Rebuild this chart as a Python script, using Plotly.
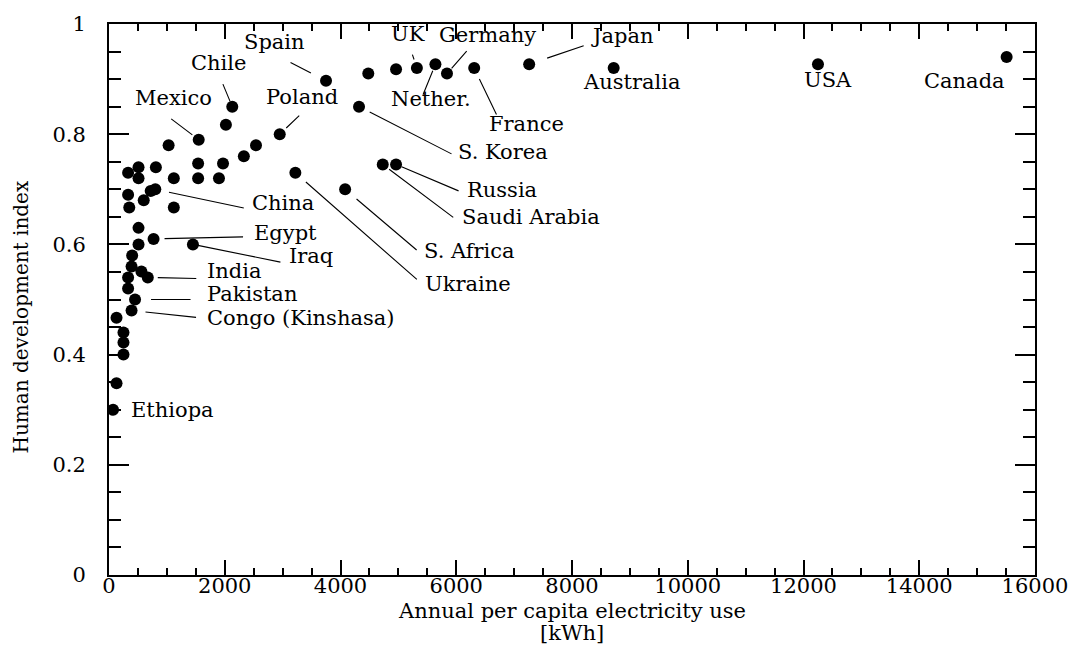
import plotly.graph_objects as go

# Annual per-capita electricity use [kWh] and human development index, one entry per country
country = [
    "Ethiopa", "Congo (Kinshasa)", "Pakistan", "India", "Egypt", "Iraq", "China",
    "Mexico", "Chile", "Poland", "Ukraine", "S. Africa", "Saudi Arabia", "Russia",
    "S. Korea", "Spain", "UK", "Nether.", "Germany", "France", "Japan",
    "Australia", "USA", "Canada",
    "", "", "", "", "", "", "", "", "", "", "", "", "", "", "", "",
    "", "", "", "", "", "", "", "", "", "", "", "", "", "", "", "",
]
kwh = [
    70, 390, 450, 670, 770, 1450, 800,
    1550, 2130, 2950, 3220, 4080, 4730, 4960,
    4320, 3750, 5320, 5640, 5840, 6310, 7260,
    8720, 12250, 15510,
    2020, 1030, 2540, 2330, 1540, 1970, 330, 510, 810, 510, 1120, 1540, 1900, 330, 720, 600,
    350, 1120, 510, 510, 400, 390, 560, 330, 330, 130, 250, 250, 250, 130, 4480, 4960,
]
hdi = [
    0.300, 0.480, 0.500, 0.540, 0.610, 0.600, 0.700,
    0.790, 0.850, 0.800, 0.730, 0.700, 0.745, 0.745,
    0.850, 0.897, 0.920, 0.927, 0.910, 0.920, 0.927,
    0.920, 0.927, 0.940,
    0.817, 0.780, 0.780, 0.760, 0.747, 0.747, 0.730, 0.740, 0.740, 0.720, 0.720, 0.720, 0.720, 0.690, 0.697, 0.680,
    0.667, 0.667, 0.630, 0.600, 0.580, 0.560, 0.551, 0.540, 0.520, 0.467, 0.440, 0.422, 0.400, 0.348, 0.910, 0.918,
]

x_ticks = [0, 2000, 4000, 6000, 8000, 10000, 12000, 14000, 16000]
x_tick_text = ["0", "2000", "4000", "6000", "8000", "10000", "12000", "14000", "16000"]
y_ticks = [0, 0.2, 0.4, 0.6, 0.8, 1]
y_tick_text = ["0", "0.2", "0.4", "0.6", "0.8", "1"]

x_title = "Annual per capita electricity use"
x_unit = "[kWh]"
y_title = "Human development index"

# Label placement in screen pixels relative to each labelled dot:
# text (dx, dy, anchor) and optional leader line (ax, ay, gap at the dot)
placement = {
    "Ethiopa": ((16, 0, "left"), None),
    "Congo (Kinshasa)": ((73, -7, "left"), (66, 7, 14)),
    "Pakistan": ((70, 6, "left"), (57, 0, 16)),
    "India": ((57, 6, "left"), (50, 1, 10)),
    "Egypt": ((98, 6, "left"), (91, -2, 11)),
    "Iraq": ((94, -12, "left"), (89, 18, 5)),
    "China": ((95, -14, "left"), (90, 19, 14)),
    "Mexico": ((-25, 42, "center"), (-29, -22, 8)),
    "Chile": ((-14, 44, "center"), (-10, -24, 6)),
    "Poland": ((22, 37, "center"), (21, -20, 9)),
    "Ukraine": ((128, -111, "left"), (123, 108, 14)),
    "S. Africa": ((77, -62, "left"), (73, 62, 15)),
    "Saudi Arabia": ((77, -52, "left"), (72, 54, 8)),
    "Russia": ((69, -25, "left"), (64, 27, 6)),
    "S. Korea": ((97, -45, "left"), (94, 48, 12)),
    "Spain": ((-52, 39, "center"), (-37, -19, 17)),
    "UK": ((-9, 34, "center"), (-5, -15, 9)),
    "Nether.": ((-4, -35, "center"), (-13, 32, 7)),
    "Germany": ((-10, 39, "left"), (21, -24, 7)),
    "France": ((13, -56, "left"), (23, 48, 12)),
    "Japan": ((60, 28, "left"), (56, -19, 19)),
    "Australia": ((18, -14, "center"), None),
    "USA": ((10, -16, "center"), None),
    "Canada": ((-42, -24, "center"), None),
}

SERIF = "DejaVu Serif"
INK = "black"

fig = go.Figure(
    go.Scatter(
        x=kwh, y=hdi, mode="markers",
        marker=dict(size=12, color="black", line=dict(width=0)),
        hoverinfo="skip", showlegend=False,
    )
)

annotations = []
for name, xv, yv in zip(country, kwh, hdi):
    if not name:
        continue
    (dx, dy, anchor), line = placement[name]
    annotations.append(dict(
        x=xv, y=yv, xref="x", yref="y", text=name, showarrow=False,
        xanchor=anchor, yanchor="middle", xshift=dx, yshift=dy,
        font=dict(family=SERIF, size=21, color=INK),
    ))
    if line is not None:
        ax, ay, gap = line
        annotations.append(dict(
            x=xv, y=yv, xref="x", yref="y", text="", showarrow=True,
            arrowhead=0, arrowwidth=1.1, arrowcolor=INK,
            ax=ax, ay=ay, standoff=gap,
        ))

# Axis titles, set tight against the tick labels
annotations.append(dict(
    x=0.5, y=0, xref="paper", yref="paper", text=x_title, showarrow=False,
    xanchor="center", yanchor="middle", yshift=-36,
    font=dict(family=SERIF, size=21, color=INK),
))
annotations.append(dict(
    x=0.5, y=0, xref="paper", yref="paper", text=x_unit, showarrow=False,
    xanchor="center", yanchor="middle", yshift=-58,
    font=dict(family=SERIF, size=21, color=INK),
))
annotations.append(dict(
    x=0, y=0.5, xref="paper", yref="paper", text=y_title, showarrow=False,
    textangle=-90, xanchor="center", yanchor="middle", xshift=-89, yshift=-18,
    font=dict(family=SERIF, size=20, color=INK),
))

axis_common = dict(
    showgrid=False, zeroline=False, showline=True, linecolor="black", linewidth=2,
    mirror="allticks", ticks="inside", tickcolor="black", tickwidth=1.5,
    tickfont=dict(family=SERIF, size=21, color=INK),
)

fig.update_layout(
    width=1085, height=664,
    margin=dict(l=109, r=50, t=17, b=89),
    paper_bgcolor="white", plot_bgcolor="white",
    annotations=annotations,
    xaxis=dict(
        axis_common, range=[0, 16000], tickvals=x_ticks, ticktext=x_tick_text, ticklen=15,
        ticklabelstandoff=-9,
        minor=dict(dtick=500, ticks="inside", ticklen=7, tickcolor="black", tickwidth=1.5),
    ),
    yaxis=dict(
        axis_common, range=[0, 1], tickvals=y_ticks, ticktext=y_tick_text, ticklen=20,
        ticklabelstandoff=17,
        minor=dict(dtick=0.05, ticks="inside", ticklen=12, tickcolor="black", tickwidth=1.5),
    ),
)

fig.write_html("out.html")
